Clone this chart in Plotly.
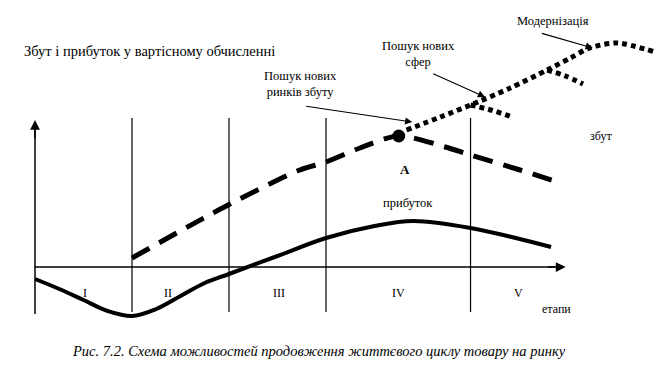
import plotly.graph_objects as go

# ---- data (x in stage units from the Y axis, y in value units from the X axis) ----
stage_bounds = [1.0, 2.0, 3.0, 4.49]
stage_labels = ["I", "II", "III", "IV", "V"]
stage_label_x = [0.52, 1.37, 2.52, 3.75, 4.98]

profit_x = [0.0, 0.25, 0.5, 0.75, 1.0, 1.25, 1.5, 1.75, 2.0, 2.5, 3.0, 3.5, 3.9, 4.49, 5.32]
profit_y = [-1.2, -2.2, -3.3, -4.4, -4.9, -4.2, -2.9, -1.6, -0.7, 1.1, 2.9, 4.1, 4.6, 3.9, 2.0]

sales_x = [1.0, 1.99, 2.73, 3.0, 3.35, 3.75, 4.23, 4.49, 5.0, 5.39]
sales_y = [0.9, 6.2, 9.7, 10.5, 11.9, 13.1, 12.0, 11.2, 9.7, 8.5]

ext_main_x = [3.83, 4.18, 4.49, 4.90, 5.28, 5.52, 5.72, 6.00, 6.39]
ext_main_y = [13.7, 15.0, 16.2, 17.9, 19.7, 20.9, 21.9, 22.4, 21.5]

branch1_x = [4.49, 4.70, 4.92]
branch1_y = [16.2, 15.7, 15.0]
branch2_x = [5.28, 5.47, 5.65]
branch2_y = [19.7, 19.1, 18.3]

point_a_x = [3.75]
point_a_y = [13.1]

arrow_labels = ["Пошук нових<br>ринків збуту", "Пошук нових<br>сфер", "Модернізація"]
arrow_label_x = [2.74, 3.95, 5.34]
arrow_label_y = [18.3, 21.3, 24.6]
arrow_tail_x = [2.78, 4.09, 5.21]
arrow_tail_y = [16.1, 19.4, 23.4]
arrow_head_x = [3.89, 4.64, 5.75]
arrow_head_y = [14.5, 17.0, 21.9]

title_text = "Збут і прибуток у вартісному обчисленні"
caption_text = "Рис. 7.2. Схема можливостей продовження життєвого циклу товару на ринку"

X_MIN, X_MAX = -35 / 97, 632 / 97
Y_MIN, Y_MAX = -10.3, 26.7
AXIS_X_END = 5.47
AXIS_Y_TOP = 14.7
AXIS_Y_BOTTOM = -4.7
SEP_TOP, SEP_BOTTOM = 14.9, -4.5

FONT = "Liberation Serif, Times New Roman, DejaVu Serif, serif"

fig = go.Figure()

fig.add_trace(go.Scatter(x=profit_x, y=profit_y, mode="lines",
                         line=dict(color="black", width=4, shape="spline", smoothing=1.0),
                         hoverinfo="skip", showlegend=False))
fig.add_trace(go.Scatter(x=sales_x, y=sales_y, mode="lines",
                         line=dict(color="black", width=5, shape="spline", smoothing=0.8, dash="20px,11px"),
                         hoverinfo="skip", showlegend=False))
for bx, by in [(ext_main_x, ext_main_y), (branch1_x, branch1_y), (branch2_x, branch2_y)]:
    fig.add_trace(go.Scatter(x=bx, y=by, mode="lines",
                             line=dict(color="black", width=5, shape="spline", smoothing=0.8, dash="5px,4px"),
                             hoverinfo="skip", showlegend=False))
fig.add_trace(go.Scatter(x=point_a_x, y=point_a_y, mode="markers",
                         marker=dict(color="black", size=13),
                         hoverinfo="skip", showlegend=False))

shapes = []
for b in stage_bounds:
    shapes.append(dict(type="line", x0=b, x1=b, y0=SEP_BOTTOM, y1=SEP_TOP,
                       line=dict(color="black", width=1.2), xref="x", yref="y"))
shapes.append(dict(type="line", x0=0, x1=0, y0=AXIS_Y_BOTTOM, y1=AXIS_Y_TOP - 0.5,
                   line=dict(color="black", width=1.5), xref="x", yref="y"))
shapes.append(dict(type="line", x0=0, x1=AXIS_X_END - 0.05, y0=0, y1=0,
                   line=dict(color="black", width=1.5), xref="x", yref="y"))

annotations = []
# axis arrowheads
annotations.append(dict(x=0, y=AXIS_Y_TOP, ax=0, ay=AXIS_Y_TOP - 2.0, xref="x", yref="y",
                        axref="x", ayref="y", showarrow=True, arrowhead=2, arrowsize=1.3,
                        arrowwidth=1.5, arrowcolor="black", text=""))
annotations.append(dict(x=AXIS_X_END, y=0, ax=AXIS_X_END - 0.2, ay=0, xref="x", yref="y",
                        axref="x", ayref="y", showarrow=True, arrowhead=2, arrowsize=1.3,
                        arrowwidth=1.5, arrowcolor="black", text=""))
# pointer arrows
for hx, hy, tx, ty in zip(arrow_head_x, arrow_head_y, arrow_tail_x, arrow_tail_y):
    annotations.append(dict(x=hx, y=hy, ax=tx, ay=ty, xref="x", yref="y", axref="x", ayref="y",
                            showarrow=True, arrowhead=2, arrowsize=1.2, arrowwidth=1.2,
                            arrowcolor="black", text=""))
for t, lx, ly in zip(arrow_labels, arrow_label_x, arrow_label_y):
    annotations.append(dict(x=lx, y=ly, xref="x", yref="y", text=t, showarrow=False,
                            font=dict(family=FONT, size=12.5, color="black"), align="center"))
# stage labels
for t, lx in zip(stage_labels, stage_label_x):
    annotations.append(dict(x=lx, y=-2.6, xref="x", yref="y", text=t, showarrow=False,
                            font=dict(family=FONT, size=12, color="black")))
annotations.append(dict(x=5.38, y=-4.2, xref="x", yref="y", text="етапи", showarrow=False,
                        font=dict(family=FONT, size=12, color="black")))
annotations.append(dict(x=5.83, y=13.1, xref="x", yref="y", text="збут", showarrow=False,
                        font=dict(family=FONT, size=12, color="black")))
annotations.append(dict(x=3.81, y=9.8, xref="x", yref="y", text="<b>A</b>", showarrow=False,
                        font=dict(family=FONT, size=13, color="black")))
annotations.append(dict(x=3.85, y=6.4, xref="x", yref="y", text="прибуток", showarrow=False,
                        font=dict(family=FONT, size=12.5, color="black")))
annotations.append(dict(x=-0.134, y=21.6, xref="x", yref="y", text=title_text, showarrow=False,
                        xanchor="left", font=dict(family=FONT, size=14.5, color="black")))
annotations.append(dict(x=319 / 667, y=1 - 351 / 370, xref="paper", yref="paper",
                        xanchor="center", yanchor="middle",
                        text="<i>" + caption_text + "</i>", showarrow=False,
                        font=dict(family=FONT, size=14.5, color="black")))

fig.update_layout(
    width=667, height=370,
    margin=dict(l=0, r=0, t=0, b=0),
    paper_bgcolor="white", plot_bgcolor="white",
    font=dict(family=FONT),
    xaxis=dict(range=[X_MIN, X_MAX], visible=False, fixedrange=True),
    yaxis=dict(range=[Y_MIN, Y_MAX], visible=False, fixedrange=True),
    shapes=shapes, annotations=annotations,
)

fig.write_html("out.html", config={"displayModeBar": False},
               post_script="document.body.style.margin='0';document.body.style.overflow='hidden';")
